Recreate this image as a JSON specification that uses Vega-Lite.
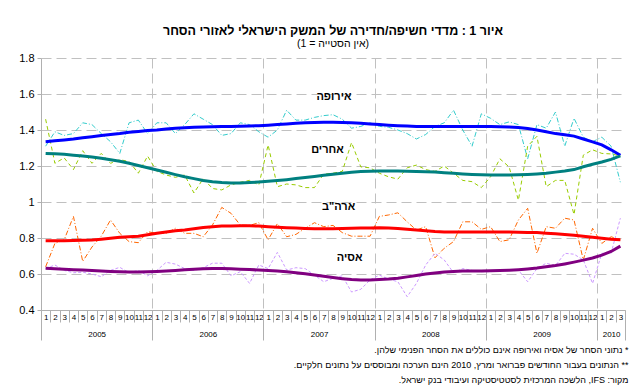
{
"$schema": "https://vega.github.io/schema/vega-lite/v6.json",
"width": 584, "height": 252,
"autosize": {"type": "none"},
"padding": {"left": 41, "top": 58, "right": 14, "bottom": 81},
"background": "white",
"config": {"view": {"stroke": null}, "font": "Liberation Sans"},
"title": {"text": "איור 1 : מדדי חשיפה/חדירה של המשק הישראלי לאזורי הסחר", "subtitle": "(1 = אין הסטייה)", "font": "Liberation Sans", "fontSize": 12.5, "fontWeight": "bold", "subtitleFont": "Liberation Sans", "subtitleFontSize": 10.5, "subtitleColor": "black", "color": "black", "anchor": "middle", "frame": "group", "offset": 3, "subtitlePadding": 1},
"datasets": {
"raw": [
{"t":0,"s":"E","v":1.31},{"t":1,"s":"E","v":1.39},{"t":2,"s":"E","v":1.37},{"t":3,"s":"E","v":1.38},{"t":4,"s":"E","v":1.44},{"t":5,"s":"E","v":1.43},{"t":6,"s":"E","v":1.38},{"t":7,"s":"E","v":1.335},{"t":8,"s":"E","v":1.27},{"t":9,"s":"E","v":1.44},{"t":10,"s":"E","v":1.455},{"t":11,"s":"E","v":1.38},{"t":12,"s":"E","v":1.44},{"t":13,"s":"E","v":1.44},{"t":14,"s":"E","v":1.38},{"t":15,"s":"E","v":1.43},{"t":16,"s":"E","v":1.49},{"t":17,"s":"E","v":1.46},{"t":18,"s":"E","v":1.43},{"t":19,"s":"E","v":1.37},{"t":20,"s":"E","v":1.38},{"t":21,"s":"E","v":1.44},{"t":22,"s":"E","v":1.43},{"t":23,"s":"E","v":1.39},{"t":24,"s":"E","v":1.36},{"t":25,"s":"E","v":1.4},{"t":26,"s":"E","v":1.51},{"t":27,"s":"E","v":1.455},{"t":28,"s":"E","v":1.455},{"t":29,"s":"E","v":1.47},{"t":30,"s":"E","v":1.48},{"t":31,"s":"E","v":1.485},{"t":32,"s":"E","v":1.46},{"t":33,"s":"E","v":1.41},{"t":34,"s":"E","v":1.42},{"t":35,"s":"E","v":1.44},{"t":36,"s":"E","v":1.42},{"t":37,"s":"E","v":1.415},{"t":38,"s":"E","v":1.4},{"t":39,"s":"E","v":1.38},{"t":40,"s":"E","v":1.35},{"t":41,"s":"E","v":1.375},{"t":42,"s":"E","v":1.42},{"t":43,"s":"E","v":1.44},{"t":44,"s":"E","v":1.51},{"t":45,"s":"E","v":1.4},{"t":46,"s":"E","v":1.31},{"t":47,"s":"E","v":1.49},{"t":48,"s":"E","v":1.465},{"t":49,"s":"E","v":1.43},{"t":50,"s":"E","v":1.445},{"t":51,"s":"E","v":1.43},{"t":52,"s":"E","v":1.24},{"t":53,"s":"E","v":1.43},{"t":54,"s":"E","v":1.41},{"t":55,"s":"E","v":1.5},{"t":56,"s":"E","v":1.31},{"t":57,"s":"E","v":1.465},{"t":58,"s":"E","v":1.36},{"t":59,"s":"E","v":1.335},{"t":60,"s":"E","v":1.36},{"t":61,"s":"E","v":1.31},{"t":62,"s":"E","v":1.11},
{"t":0,"s":"O","v":1.46},{"t":1,"s":"O","v":1.215},{"t":2,"s":"O","v":1.245},{"t":3,"s":"O","v":1.18},{"t":4,"s":"O","v":1.285},{"t":5,"s":"O","v":1.215},{"t":6,"s":"O","v":1.27},{"t":7,"s":"O","v":1.215},{"t":8,"s":"O","v":1.235},{"t":9,"s":"O","v":1.225},{"t":10,"s":"O","v":1.16},{"t":11,"s":"O","v":1.255},{"t":12,"s":"O","v":1.17},{"t":13,"s":"O","v":1.15},{"t":14,"s":"O","v":1.137},{"t":15,"s":"O","v":1.15},{"t":16,"s":"O","v":1.05},{"t":17,"s":"O","v":1.13},{"t":18,"s":"O","v":1.075},{"t":19,"s":"O","v":1.067},{"t":20,"s":"O","v":1.095},{"t":21,"s":"O","v":1.11},{"t":22,"s":"O","v":1.12},{"t":23,"s":"O","v":1.095},{"t":24,"s":"O","v":1.317},{"t":25,"s":"O","v":1.085},{"t":26,"s":"O","v":1.1},{"t":27,"s":"O","v":1.095},{"t":28,"s":"O","v":1.08},{"t":29,"s":"O","v":1.08},{"t":30,"s":"O","v":1.155},{"t":31,"s":"O","v":1.16},{"t":32,"s":"O","v":1.17},{"t":33,"s":"O","v":1.33},{"t":34,"s":"O","v":1.195},{"t":35,"s":"O","v":1.19},{"t":36,"s":"O","v":1.16},{"t":37,"s":"O","v":1.14},{"t":38,"s":"O","v":1.127},{"t":39,"s":"O","v":1.19},{"t":40,"s":"O","v":1.205},{"t":41,"s":"O","v":1.18},{"t":42,"s":"O","v":1.17},{"t":43,"s":"O","v":1.2},{"t":44,"s":"O","v":1.16},{"t":45,"s":"O","v":1.12},{"t":46,"s":"O","v":1.113},{"t":47,"s":"O","v":1.08},{"t":48,"s":"O","v":1.14},{"t":49,"s":"O","v":1.24},{"t":50,"s":"O","v":1.195},{"t":51,"s":"O","v":1.01},{"t":52,"s":"O","v":1.31},{"t":53,"s":"O","v":1.365},{"t":54,"s":"O","v":1.085},{"t":55,"s":"O","v":1.12},{"t":56,"s":"O","v":1.12},{"t":57,"s":"O","v":0.93},{"t":58,"s":"O","v":1.26},{"t":59,"s":"O","v":1.29},{"t":60,"s":"O","v":1.27},{"t":61,"s":"O","v":1.267},{"t":62,"s":"O","v":1.256},
{"t":0,"s":"U","v":0.64},{"t":1,"s":"U","v":0.77},{"t":2,"s":"U","v":0.79},{"t":3,"s":"U","v":0.92},{"t":4,"s":"U","v":0.67},{"t":5,"s":"U","v":0.75},{"t":6,"s":"U","v":0.81},{"t":7,"s":"U","v":0.9},{"t":8,"s":"U","v":0.826},{"t":9,"s":"U","v":0.78},{"t":10,"s":"U","v":0.774},{"t":11,"s":"U","v":0.835},{"t":12,"s":"U","v":0.826},{"t":13,"s":"U","v":0.826},{"t":14,"s":"U","v":0.854},{"t":15,"s":"U","v":0.826},{"t":16,"s":"U","v":0.826},{"t":17,"s":"U","v":0.807},{"t":18,"s":"U","v":0.872},{"t":19,"s":"U","v":0.97},{"t":20,"s":"U","v":0.937},{"t":21,"s":"U","v":0.872},{"t":22,"s":"U","v":0.87},{"t":23,"s":"U","v":0.885},{"t":24,"s":"U","v":0.79},{"t":25,"s":"U","v":0.88},{"t":26,"s":"U","v":0.807},{"t":27,"s":"U","v":0.82},{"t":28,"s":"U","v":0.854},{"t":29,"s":"U","v":0.885},{"t":30,"s":"U","v":0.863},{"t":31,"s":"U","v":0.87},{"t":32,"s":"U","v":0.83},{"t":33,"s":"U","v":0.81},{"t":34,"s":"U","v":0.81},{"t":35,"s":"U","v":0.81},{"t":36,"s":"U","v":0.92},{"t":37,"s":"U","v":0.928},{"t":38,"s":"U","v":0.94},{"t":39,"s":"U","v":0.89},{"t":40,"s":"U","v":0.844},{"t":41,"s":"U","v":0.863},{"t":42,"s":"U","v":0.69},{"t":43,"s":"U","v":0.743},{"t":44,"s":"U","v":0.78},{"t":45,"s":"U","v":0.89},{"t":46,"s":"U","v":0.89},{"t":47,"s":"U","v":0.848},{"t":48,"s":"U","v":0.863},{"t":49,"s":"U","v":0.78},{"t":50,"s":"U","v":0.79},{"t":51,"s":"U","v":0.9},{"t":52,"s":"U","v":0.965},{"t":53,"s":"U","v":0.715},{"t":54,"s":"U","v":0.863},{"t":55,"s":"U","v":0.854},{"t":56,"s":"U","v":0.91},{"t":57,"s":"U","v":0.9},{"t":58,"s":"U","v":0.678},{"t":59,"s":"U","v":0.854},{"t":60,"s":"U","v":0.77},{"t":61,"s":"U","v":0.807},{"t":62,"s":"U","v":0.79},
{"t":0,"s":"A","v":0.63},{"t":1,"s":"A","v":0.65},{"t":2,"s":"A","v":0.62},{"t":3,"s":"A","v":0.607},{"t":4,"s":"A","v":0.61},{"t":5,"s":"A","v":0.6},{"t":6,"s":"A","v":0.585},{"t":7,"s":"A","v":0.62},{"t":8,"s":"A","v":0.637},{"t":9,"s":"A","v":0.607},{"t":10,"s":"A","v":0.62},{"t":11,"s":"A","v":0.59},{"t":12,"s":"A","v":0.62},{"t":13,"s":"A","v":0.665},{"t":14,"s":"A","v":0.655},{"t":15,"s":"A","v":0.63},{"t":16,"s":"A","v":0.62},{"t":17,"s":"A","v":0.635},{"t":18,"s":"A","v":0.66},{"t":19,"s":"A","v":0.66},{"t":20,"s":"A","v":0.59},{"t":21,"s":"A","v":0.613},{"t":22,"s":"A","v":0.548},{"t":23,"s":"A","v":0.65},{"t":24,"s":"A","v":0.63},{"t":25,"s":"A","v":0.72},{"t":26,"s":"A","v":0.622},{"t":27,"s":"A","v":0.635},{"t":28,"s":"A","v":0.63},{"t":29,"s":"A","v":0.594},{"t":30,"s":"A","v":0.557},{"t":31,"s":"A","v":0.576},{"t":32,"s":"A","v":0.59},{"t":33,"s":"A","v":0.5},{"t":34,"s":"A","v":0.515},{"t":35,"s":"A","v":0.567},{"t":36,"s":"A","v":0.594},{"t":37,"s":"A","v":0.572},{"t":38,"s":"A","v":0.557},{"t":39,"s":"A","v":0.474},{"t":40,"s":"A","v":0.548},{"t":41,"s":"A","v":0.65},{"t":42,"s":"A","v":0.715},{"t":43,"s":"A","v":0.678},{"t":44,"s":"A","v":0.607},{"t":45,"s":"A","v":0.63},{"t":46,"s":"A","v":0.62},{"t":47,"s":"A","v":0.613},{"t":48,"s":"A","v":0.613},{"t":49,"s":"A","v":0.618},{"t":50,"s":"A","v":0.622},{"t":51,"s":"A","v":0.622},{"t":52,"s":"A","v":0.557},{"t":53,"s":"A","v":0.63},{"t":54,"s":"A","v":0.66},{"t":55,"s":"A","v":0.646},{"t":56,"s":"A","v":0.715},{"t":57,"s":"A","v":0.71},{"t":58,"s":"A","v":0.678},{"t":59,"s":"A","v":0.548},{"t":60,"s":"A","v":0.715},{"t":61,"s":"A","v":0.715},{"t":62,"s":"A","v":0.91}
],
"trend": [
{"t":0,"s":"ET","v":1.335},{"t":1,"s":"ET","v":1.34},{"t":2,"s":"ET","v":1.345},{"t":3,"s":"ET","v":1.35},{"t":4,"s":"ET","v":1.357},{"t":5,"s":"ET","v":1.363},{"t":6,"s":"ET","v":1.37},{"t":7,"s":"ET","v":1.375},{"t":8,"s":"ET","v":1.38},{"t":9,"s":"ET","v":1.387},{"t":10,"s":"ET","v":1.392},{"t":11,"s":"ET","v":1.397},{"t":12,"s":"ET","v":1.4},{"t":13,"s":"ET","v":1.405},{"t":14,"s":"ET","v":1.41},{"t":15,"s":"ET","v":1.413},{"t":16,"s":"ET","v":1.415},{"t":17,"s":"ET","v":1.417},{"t":18,"s":"ET","v":1.418},{"t":19,"s":"ET","v":1.42},{"t":20,"s":"ET","v":1.42},{"t":21,"s":"ET","v":1.421},{"t":22,"s":"ET","v":1.422},{"t":23,"s":"ET","v":1.424},{"t":24,"s":"ET","v":1.427},{"t":25,"s":"ET","v":1.43},{"t":26,"s":"ET","v":1.434},{"t":27,"s":"ET","v":1.437},{"t":28,"s":"ET","v":1.44},{"t":29,"s":"ET","v":1.442},{"t":30,"s":"ET","v":1.443},{"t":31,"s":"ET","v":1.443},{"t":32,"s":"ET","v":1.442},{"t":33,"s":"ET","v":1.44},{"t":34,"s":"ET","v":1.437},{"t":35,"s":"ET","v":1.433},{"t":36,"s":"ET","v":1.43},{"t":37,"s":"ET","v":1.427},{"t":38,"s":"ET","v":1.424},{"t":39,"s":"ET","v":1.422},{"t":40,"s":"ET","v":1.42},{"t":41,"s":"ET","v":1.42},{"t":42,"s":"ET","v":1.42},{"t":43,"s":"ET","v":1.42},{"t":44,"s":"ET","v":1.42},{"t":45,"s":"ET","v":1.42},{"t":46,"s":"ET","v":1.42},{"t":47,"s":"ET","v":1.42},{"t":48,"s":"ET","v":1.42},{"t":49,"s":"ET","v":1.418},{"t":50,"s":"ET","v":1.416},{"t":51,"s":"ET","v":1.414},{"t":52,"s":"ET","v":1.408},{"t":53,"s":"ET","v":1.4},{"t":54,"s":"ET","v":1.39},{"t":55,"s":"ET","v":1.38},{"t":56,"s":"ET","v":1.373},{"t":57,"s":"ET","v":1.366},{"t":58,"s":"ET","v":1.35},{"t":59,"s":"ET","v":1.334},{"t":60,"s":"ET","v":1.317},{"t":61,"s":"ET","v":1.29},{"t":62,"s":"ET","v":1.26},
{"t":0,"s":"OT","v":1.27},{"t":1,"s":"OT","v":1.268},{"t":2,"s":"OT","v":1.265},{"t":3,"s":"OT","v":1.26},{"t":4,"s":"OT","v":1.256},{"t":5,"s":"OT","v":1.25},{"t":6,"s":"OT","v":1.243},{"t":7,"s":"OT","v":1.235},{"t":8,"s":"OT","v":1.226},{"t":9,"s":"OT","v":1.215},{"t":10,"s":"OT","v":1.203},{"t":11,"s":"OT","v":1.19},{"t":12,"s":"OT","v":1.178},{"t":13,"s":"OT","v":1.165},{"t":14,"s":"OT","v":1.152},{"t":15,"s":"OT","v":1.14},{"t":16,"s":"OT","v":1.13},{"t":17,"s":"OT","v":1.12},{"t":18,"s":"OT","v":1.113},{"t":19,"s":"OT","v":1.108},{"t":20,"s":"OT","v":1.106},{"t":21,"s":"OT","v":1.106},{"t":22,"s":"OT","v":1.108},{"t":23,"s":"OT","v":1.111},{"t":24,"s":"OT","v":1.115},{"t":25,"s":"OT","v":1.119},{"t":26,"s":"OT","v":1.124},{"t":27,"s":"OT","v":1.13},{"t":28,"s":"OT","v":1.136},{"t":29,"s":"OT","v":1.142},{"t":30,"s":"OT","v":1.148},{"t":31,"s":"OT","v":1.154},{"t":32,"s":"OT","v":1.16},{"t":33,"s":"OT","v":1.165},{"t":34,"s":"OT","v":1.169},{"t":35,"s":"OT","v":1.171},{"t":36,"s":"OT","v":1.172},{"t":37,"s":"OT","v":1.172},{"t":38,"s":"OT","v":1.172},{"t":39,"s":"OT","v":1.171},{"t":40,"s":"OT","v":1.17},{"t":41,"s":"OT","v":1.168},{"t":42,"s":"OT","v":1.166},{"t":43,"s":"OT","v":1.163},{"t":44,"s":"OT","v":1.16},{"t":45,"s":"OT","v":1.156},{"t":46,"s":"OT","v":1.153},{"t":47,"s":"OT","v":1.151},{"t":48,"s":"OT","v":1.15},{"t":49,"s":"OT","v":1.15},{"t":50,"s":"OT","v":1.15},{"t":51,"s":"OT","v":1.151},{"t":52,"s":"OT","v":1.153},{"t":53,"s":"OT","v":1.156},{"t":54,"s":"OT","v":1.16},{"t":55,"s":"OT","v":1.166},{"t":56,"s":"OT","v":1.172},{"t":57,"s":"OT","v":1.18},{"t":58,"s":"OT","v":1.196},{"t":59,"s":"OT","v":1.21},{"t":60,"s":"OT","v":1.222},{"t":61,"s":"OT","v":1.237},{"t":62,"s":"OT","v":1.256},
{"t":0,"s":"UT","v":0.785},{"t":1,"s":"UT","v":0.785},{"t":2,"s":"UT","v":0.785},{"t":3,"s":"UT","v":0.786},{"t":4,"s":"UT","v":0.787},{"t":5,"s":"UT","v":0.789},{"t":6,"s":"UT","v":0.793},{"t":7,"s":"UT","v":0.798},{"t":8,"s":"UT","v":0.804},{"t":9,"s":"UT","v":0.807},{"t":10,"s":"UT","v":0.81},{"t":11,"s":"UT","v":0.818},{"t":12,"s":"UT","v":0.826},{"t":13,"s":"UT","v":0.833},{"t":14,"s":"UT","v":0.84},{"t":15,"s":"UT","v":0.845},{"t":16,"s":"UT","v":0.852},{"t":17,"s":"UT","v":0.858},{"t":18,"s":"UT","v":0.863},{"t":19,"s":"UT","v":0.866},{"t":20,"s":"UT","v":0.867},{"t":21,"s":"UT","v":0.868},{"t":22,"s":"UT","v":0.868},{"t":23,"s":"UT","v":0.866},{"t":24,"s":"UT","v":0.863},{"t":25,"s":"UT","v":0.86},{"t":26,"s":"UT","v":0.857},{"t":27,"s":"UT","v":0.855},{"t":28,"s":"UT","v":0.853},{"t":29,"s":"UT","v":0.852},{"t":30,"s":"UT","v":0.852},{"t":31,"s":"UT","v":0.852},{"t":32,"s":"UT","v":0.853},{"t":33,"s":"UT","v":0.854},{"t":34,"s":"UT","v":0.855},{"t":35,"s":"UT","v":0.856},{"t":36,"s":"UT","v":0.857},{"t":37,"s":"UT","v":0.856},{"t":38,"s":"UT","v":0.853},{"t":39,"s":"UT","v":0.849},{"t":40,"s":"UT","v":0.844},{"t":41,"s":"UT","v":0.84},{"t":42,"s":"UT","v":0.836},{"t":43,"s":"UT","v":0.834},{"t":44,"s":"UT","v":0.833},{"t":45,"s":"UT","v":0.833},{"t":46,"s":"UT","v":0.833},{"t":47,"s":"UT","v":0.833},{"t":48,"s":"UT","v":0.833},{"t":49,"s":"UT","v":0.833},{"t":50,"s":"UT","v":0.833},{"t":51,"s":"UT","v":0.832},{"t":52,"s":"UT","v":0.831},{"t":53,"s":"UT","v":0.83},{"t":54,"s":"UT","v":0.827},{"t":55,"s":"UT","v":0.824},{"t":56,"s":"UT","v":0.82},{"t":57,"s":"UT","v":0.815},{"t":58,"s":"UT","v":0.81},{"t":59,"s":"UT","v":0.804},{"t":60,"s":"UT","v":0.799},{"t":61,"s":"UT","v":0.793},{"t":62,"s":"UT","v":0.79},
{"t":0,"s":"AT","v":0.632},{"t":1,"s":"AT","v":0.629},{"t":2,"s":"AT","v":0.626},{"t":3,"s":"AT","v":0.624},{"t":4,"s":"AT","v":0.622},{"t":5,"s":"AT","v":0.62},{"t":6,"s":"AT","v":0.617},{"t":7,"s":"AT","v":0.614},{"t":8,"s":"AT","v":0.612},{"t":9,"s":"AT","v":0.611},{"t":10,"s":"AT","v":0.611},{"t":11,"s":"AT","v":0.612},{"t":12,"s":"AT","v":0.614},{"t":13,"s":"AT","v":0.617},{"t":14,"s":"AT","v":0.62},{"t":15,"s":"AT","v":0.624},{"t":16,"s":"AT","v":0.627},{"t":17,"s":"AT","v":0.629},{"t":18,"s":"AT","v":0.63},{"t":19,"s":"AT","v":0.63},{"t":20,"s":"AT","v":0.629},{"t":21,"s":"AT","v":0.627},{"t":22,"s":"AT","v":0.625},{"t":23,"s":"AT","v":0.622},{"t":24,"s":"AT","v":0.62},{"t":25,"s":"AT","v":0.617},{"t":26,"s":"AT","v":0.612},{"t":27,"s":"AT","v":0.607},{"t":28,"s":"AT","v":0.601},{"t":29,"s":"AT","v":0.594},{"t":30,"s":"AT","v":0.587},{"t":31,"s":"AT","v":0.58},{"t":32,"s":"AT","v":0.574},{"t":33,"s":"AT","v":0.569},{"t":34,"s":"AT","v":0.567},{"t":35,"s":"AT","v":0.567},{"t":36,"s":"AT","v":0.569},{"t":37,"s":"AT","v":0.572},{"t":38,"s":"AT","v":0.577},{"t":39,"s":"AT","v":0.584},{"t":40,"s":"AT","v":0.592},{"t":41,"s":"AT","v":0.6},{"t":42,"s":"AT","v":0.606},{"t":43,"s":"AT","v":0.611},{"t":44,"s":"AT","v":0.614},{"t":45,"s":"AT","v":0.616},{"t":46,"s":"AT","v":0.617},{"t":47,"s":"AT","v":0.617},{"t":48,"s":"AT","v":0.618},{"t":49,"s":"AT","v":0.619},{"t":50,"s":"AT","v":0.621},{"t":51,"s":"AT","v":0.624},{"t":52,"s":"AT","v":0.628},{"t":53,"s":"AT","v":0.633},{"t":54,"s":"AT","v":0.64},{"t":55,"s":"AT","v":0.647},{"t":56,"s":"AT","v":0.656},{"t":57,"s":"AT","v":0.666},{"t":58,"s":"AT","v":0.677},{"t":59,"s":"AT","v":0.689},{"t":60,"s":"AT","v":0.705},{"t":61,"s":"AT","v":0.725},{"t":62,"s":"AT","v":0.755}
],
"labels": [
{"t":31.1,"v":1.585,"label":"אירופה"},
{"t":30.4,"v":1.289,"label":"אחרים"},
{"t":31.6,"v":0.972,"label":"ארה\"ב"},
{"t":32.8,"v":0.689,"label":"אסיה"}
],
"years": [
{"t":5.5,"v":0.4,"label":"2005"},{"t":17.5,"v":0.4,"label":"2006"},{"t":29.5,"v":0.4,"label":"2007"},{"t":41.5,"v":0.4,"label":"2008"},{"t":53.5,"v":0.4,"label":"2009"},{"t":61,"v":0.4,"label":"2010"}
]
},
"resolve": {"axis": {"x": "independent"}},
"layer": [
{
"data": {"name": "raw"},
"mark": {"type": "line", "strokeWidth": 1},
"encoding": {
"x": {"field": "t", "type": "quantitative", "scale": {"domain": [-0.5, 62.5], "nice": false, "zero": false},
"axis": {"orient": "bottom", "title": null, "grid": false,
"values": [-0.5,0.5,1.5,2.5,3.5,4.5,5.5,6.5,7.5,8.5,9.5,10.5,11.5,12.5,13.5,14.5,15.5,16.5,17.5,18.5,19.5,20.5,21.5,22.5,23.5,24.5,25.5,26.5,27.5,28.5,29.5,30.5,31.5,32.5,33.5,34.5,35.5,36.5,37.5,38.5,39.5,40.5,41.5,42.5,43.5,44.5,45.5,46.5,47.5,48.5,49.5,50.5,51.5,52.5,53.5,54.5,55.5,56.5,57.5,58.5,59.5,60.5,61.5,62.5],
"labelExpr": "datum.value > 62 ? '' : format((datum.value + 0.5) % 12 + 1, 'd')",
"labelOffset": 4.63, "labelFontSize": 8, "labelFont": "Liberation Sans", "labelColor": "black", "labelPadding": -9, "labelAngle": 0,
"labelOverlap": false, "labelFlush": false, "labelBound": false,
"tickSize": 12, "tickColor": "#B0B0B0", "domainColor": "#B0B0B0"}},
"y": {"field": "v", "type": "quantitative", "scale": {"domain": [0.4, 1.8], "nice": false, "zero": false},
"axis": {"title": null, "values": [0.4,0.6,0.8,1,1.2,1.4,1.6,1.8], "format": "~g", "grid": true, "gridDash": [10,5], "gridColor": "#C0C0C0", "labelOverlap": false, "labelFlush": false, "domainColor": "#B0B0B0", "tickColor": "#B0B0B0", "tickSize": 4, "labelFontSize": 11, "labelFont": "Liberation Sans", "labelColor": "black", "labelPadding": 3}},
"color": {"field": "s", "type": "nominal", "legend": null,
"scale": {"domain": ["E","O","U","A","ET","OT","UT","AT"], "range": ["#33CCCC","#99CC00","#FF6600","#CC99FF","#0000FF","#008080","#FF0000","#800080"]}},
"strokeDash": {"field": "s", "type": "nominal", "legend": null,
"scale": {"domain": ["E","O","U","A"], "range": [[5,2,1,2],[4,3],[5,2,1,2],[3,2]]}}
}
},
{
"data": {"name": "trend"},
"mark": {"type": "line", "strokeWidth": 3},
"encoding": {
"x": {"field": "t", "type": "quantitative",
"axis": {"orient": "bottom", "title": null, "values": [11.5,23.5,35.5,47.5,59.5], "labels": false, "domain": false,
"grid": true, "gridDash": [10,5], "gridColor": "#C0C0C0", "tickSize": 30, "tickColor": "#B0B0B0"}},
"y": {"field": "v", "type": "quantitative",
"axis": {"title": null, "values": [0.4,0.6,0.8,1,1.2,1.4,1.6,1.8], "format": "~g", "grid": true, "gridDash": [10,5], "gridColor": "#C0C0C0", "labelOverlap": false, "labelFlush": false, "domainColor": "#B0B0B0", "tickColor": "#B0B0B0", "tickSize": 4, "labelFontSize": 11, "labelFont": "Liberation Sans", "labelColor": "black", "labelPadding": 3}},
"color": {"field": "s", "type": "nominal", "legend": null}
}
},
{
"data": {"name": "labels"},
"mark": {"type": "text", "fontWeight": "bold", "fontSize": 11, "font": "Liberation Sans", "color": "black"},
"encoding": {
"x": {"field": "t", "type": "quantitative",
"axis": {"orient": "bottom", "title": null, "values": [-0.5, 62.5], "labels": false, "domain": false, "grid": false, "tickSize": 30, "tickColor": "#B0B0B0"}},
"y": {"field": "v", "type": "quantitative",
"axis": {"title": null, "values": [0.4,0.6,0.8,1,1.2,1.4,1.6,1.8], "format": "~g", "grid": true, "gridDash": [10,5], "gridColor": "#C0C0C0", "labelOverlap": false, "labelFlush": false, "domainColor": "#B0B0B0", "tickColor": "#B0B0B0", "tickSize": 4, "labelFontSize": 11, "labelFont": "Liberation Sans", "labelColor": "black", "labelPadding": 3}},
"text": {"field": "label"}
}
},
{
"data": {"name": "years"},
"mark": {"type": "text", "opacity": 0, "text": ""},
"encoding": {
"x": {"field": "t", "type": "quantitative",
"axis": {"orient": "bottom", "values": [5.5,17.5,29.5,41.5,53.5,61], "labelExpr": "'' + (2005 + floor(datum.value / 12))",
"ticks": false, "domain": false, "grid": false, "labelPadding": 20, "labelFontSize": 8, "labelFont": "Liberation Sans", "labelColor": "black",
"labelOverlap": false, "labelFlush": false, "labelBound": false, "labelAngle": 0,
"title": ["\u202B* נתוני הסחר של אסיה ואירופה אינם כוללים את הסחר הפנימי שלהן.\u202C", "\u202B** הנתונים בעבור החודשים פברואר ומרץ, 2010 הינם הערכה ומבוססים על נתונים חלקיים.\u202C", "\u202Bמקור: IFS, הלשכה המרכזית לסטטיסטיקה ועיבודי בנק ישראל.\u202C"],
"titleFont": "Liberation Sans", "titleFontSize": 9, "titleFontWeight": "normal", "titleColor": "black", "titleAlign": "right", "titleAnchor": "end",
"titleBaseline": "top", "titleX": 587, "titleY": 35, "titleLineHeight": 15}},
"y": {"field": "v", "type": "quantitative",
"axis": {"title": null, "values": [0.4,0.6,0.8,1,1.2,1.4,1.6,1.8], "format": "~g", "grid": true, "gridDash": [10,5], "gridColor": "#C0C0C0", "labelOverlap": false, "labelFlush": false, "domainColor": "#B0B0B0", "tickColor": "#B0B0B0", "tickSize": 4, "labelFontSize": 11, "labelFont": "Liberation Sans", "labelColor": "black", "labelPadding": 3}}
}
}
]
}
